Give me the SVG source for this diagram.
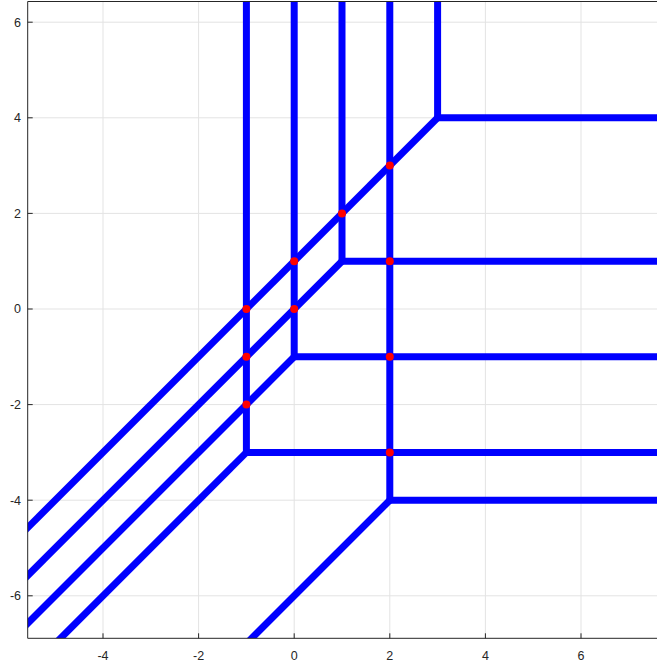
<svg xmlns="http://www.w3.org/2000/svg" width="657" height="668" viewBox="0 0 657 668">
<style>
.grid{stroke:#e3e3e3;stroke-width:1;fill:none}
.ax{stroke:#262626;stroke-width:1;fill:none}
.tk{stroke:#262626;stroke-width:1}
.lbl{font-family:"Liberation Sans",Arial,sans-serif;font-size:12.5px;fill:#262626}
.b{stroke:#0000ff;stroke-width:7;fill:none;stroke-linejoin:round;stroke-linecap:butt}
.d{fill:#ff0000}
</style>
<defs>
<clipPath id="plot"><rect x="27.7" y="1.5" width="640" height="636.8"/></clipPath>
</defs>
<rect width="657" height="668" fill="#ffffff"/>
<g id="grid">
<path class="grid" d="M103.0 1.5V638.3M198.6 1.5V638.3M294.2 1.5V638.3M389.8 1.5V638.3M485.4 1.5V638.3M581.0 1.5V638.3"/>
<path class="grid" d="M27.7 22.2H657M27.7 117.8H657M27.7 213.4H657M27.7 309H657M27.7 404.6H657M27.7 500.2H657M27.7 595.8H657"/>
</g>
<g id="lines" clip-path="url(#plot)">
<path class="b" d="M246.4 -10V452.4H700"/>
<path class="b" d="M294.2 -10V356.8H700"/>
<path class="b" d="M342 -10V261.2H700"/>
<path class="b" d="M389.8 -10V500.2H700"/>
<path class="b" d="M437.6 -10V117.8H700"/>
<path class="b" d="M437.6 117.8L-88.2 643.6"/>
<path class="b" d="M342 261.2L-136 739.2"/>
<path class="b" d="M294.2 356.8L-183.8 834.8"/>
<path class="b" d="M246.4 452.4L-40.4 739.2"/>
<path class="b" d="M389.8 500.2L198.6 691.4"/>
</g>
<g id="points">
<circle class="d" cx="389.8" cy="165.6" r="4"/>
<circle class="d" cx="342" cy="213.4" r="4"/>
<circle class="d" cx="294.2" cy="261.2" r="4"/>
<circle class="d" cx="246.4" cy="309" r="4"/>
<circle class="d" cx="294.2" cy="309" r="4"/>
<circle class="d" cx="246.4" cy="356.8" r="4"/>
<circle class="d" cx="246.4" cy="404.6" r="4"/>
<circle class="d" cx="389.8" cy="261.2" r="4"/>
<circle class="d" cx="389.8" cy="356.8" r="4"/>
<circle class="d" cx="389.8" cy="452.4" r="4"/>
</g>
<g id="axes">
<path class="ax" d="M27.7 1.5H700M27.7 1.5V638.3H700"/>
<path class="tk" d="M103.0 638.3v-5M198.6 638.3v-5M294.2 638.3v-5M389.8 638.3v-5M485.4 638.3v-5M581.0 638.3v-5"/>
<path class="tk" d="M27.7 22.2h5M27.7 117.8h5M27.7 213.4h5M27.7 309h5M27.7 404.6h5M27.7 500.2h5M27.7 595.8h5"/>
<g class="lbl" text-anchor="middle">
<text x="103.0" y="660">-4</text>
<text x="198.6" y="660">-2</text>
<text x="294.2" y="660">0</text>
<text x="389.8" y="660">2</text>
<text x="485.4" y="660">4</text>
<text x="581.0" y="660">6</text>
</g>
<g class="lbl" text-anchor="end">
<text x="21" y="26.5">6</text>
<text x="21" y="122.1">4</text>
<text x="21" y="217.7">2</text>
<text x="21" y="313.3">0</text>
<text x="21" y="408.9">-2</text>
<text x="21" y="504.5">-4</text>
<text x="21" y="600.1">-6</text>
</g>
</g>
</svg>
